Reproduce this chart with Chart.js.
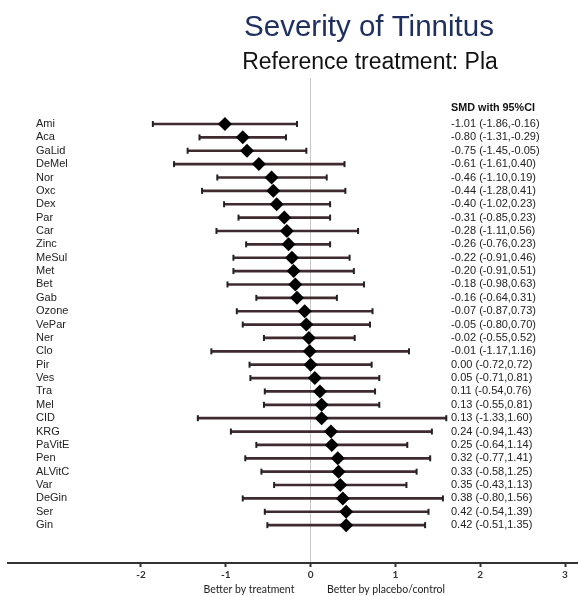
<!DOCTYPE html>
<html>
<head>
<meta charset="utf-8">
<script src="https://cdn.jsdelivr.net/npm/chart.js@4/dist/chart.umd.min.js"></script>
<style>
html,body{margin:0;padding:0;background:#fff;}
#c{display:block;}
</style>
</head>
<body>
<canvas id="c" width="578" height="596"></canvas>
<script>
const treatments = ["Ami","Aca","GaLid","DeMel","Nor","Oxc","Dex","Par","Car","Zinc","MeSul","Met","Bet","Gab","Ozone","VePar","Ner","Clo","Pir","Ves","Tra","Mel","CID","KRG","PaVitE","Pen","ALVitC","Var","DeGin","Ser","Gin"];
const smd   = [-1.01,-0.80,-0.75,-0.61,-0.46,-0.44,-0.40,-0.31,-0.28,-0.26,-0.22,-0.20,-0.18,-0.16,-0.07,-0.05,-0.02,-0.01,0.00,0.05,0.11,0.13,0.13,0.24,0.25,0.32,0.33,0.35,0.38,0.42,0.42];
const lower = [-1.86,-1.31,-1.45,-1.61,-1.10,-1.28,-1.02,-0.85,-1.11,-0.76,-0.91,-0.91,-0.98,-0.64,-0.87,-0.80,-0.55,-1.17,-0.72,-0.71,-0.54,-0.55,-1.33,-0.94,-0.64,-0.77,-0.58,-0.43,-0.80,-0.54,-0.51];
const upper = [-0.16,-0.29,-0.05,0.40,0.19,0.41,0.23,0.23,0.56,0.23,0.46,0.51,0.63,0.31,0.73,0.70,0.52,1.16,0.72,0.81,0.76,0.81,1.60,1.43,1.14,1.41,1.25,1.13,1.56,1.39,1.35];
const xTicks = [-2,-1,0,1,2,3];
const titleText = "Severity of Tinnitus";
const subtitleText = "Reference treatment: Pla";
const columnHeader = "SMD with 95%CI";
const leftCaption = "Better by treatment";
const rightCaption = "Better by placebo/control";

const fmt = v => v.toFixed(2);
const idx = treatments.map((_, i) => i);
const lineColor = '#3e2a2f';

const textPlugin = {
  id: 'forestText',
  afterDraw(chart) {
    const ctx = chart.ctx;
    const ys = chart.scales.y;
    ctx.save();
    ctx.textBaseline = 'alphabetic';
    ctx.textAlign = 'center';
    ctx.fillStyle = '#1f3060';
    ctx.font = '29.5px "Liberation Sans", Arial, sans-serif';
    ctx.fillText(titleText, 369, 36);
    ctx.fillStyle = '#111';
    ctx.font = '23px "Liberation Sans", Arial, sans-serif';
    ctx.fillText(subtitleText, 370, 69);

    ctx.textBaseline = 'middle';
    ctx.textAlign = 'left';
    ctx.font = 'bold 10.8px "Liberation Sans", Arial, sans-serif';
    ctx.fillStyle = '#111';
    ctx.fillText(columnHeader, 451, 108);

    ctx.font = '11px "Liberation Sans", Arial, sans-serif';
    ctx.fillStyle = '#222';
    idx.forEach(i => {
      const y = ys.getPixelForValue(i);
      ctx.fillText(treatments[i], 36, y);
      ctx.fillText(fmt(smd[i]) + ' (' + fmt(lower[i]) + ',' + fmt(upper[i]) + ')', 451, y);
    });

    ctx.textAlign = 'center';
    ctx.font = '10.5px Lato, "Open Sans", sans-serif';
    ctx.fillStyle = '#222';
    ctx.fillText(leftCaption, 249, 589.5);
    ctx.fillText(rightCaption, 386, 589.5);
    ctx.restore();
  }
};

new Chart(document.getElementById('c'), {
  type: 'bar',
  data: {
    datasets: [
      {
        type: 'scatter',
        label: 'SMD',
        data: idx.map(i => ({x: smd[i], y: i})),
        pointStyle: 'rectRot',
        pointRadius: 7,
        backgroundColor: '#000',
        borderColor: '#000',
        borderWidth: 0,
        order: 0
      },
      {
        type: 'scatter',
        label: 'lowcap',
        data: idx.map(i => ({x: lower[i], y: i})),
        pointStyle: 'line',
        rotation: 90,
        pointRadius: 3,
        borderColor: '#222',
        borderWidth: 2,
        order: 1
      },
      {
        type: 'scatter',
        label: 'highcap',
        data: idx.map(i => ({x: upper[i], y: i})),
        pointStyle: 'line',
        rotation: 90,
        pointRadius: 3,
        borderColor: '#222',
        borderWidth: 2,
        order: 1
      },
      {
        type: 'bar',
        label: 'CI',
        data: idx.map(i => ({y: i, x: [lower[i], upper[i]]})),
        backgroundColor: lineColor,
        borderWidth: 0,
        barThickness: 2,
        order: 2
      }
    ]
  },
  options: {
    indexAxis: 'y',
    responsive: false,
    animation: false,
    events: [],
    layout: {autoPadding: false, padding: {left: 8, right: 0, top: 78, bottom: 0}},
    plugins: {legend: {display: false}, tooltip: {enabled: false}, title: {display: false}},
    scales: {
      x: {
        type: 'linear',
        position: 'bottom',
        offset: false,
        min: -3.568,
        max: 3.153,
        afterBuildTicks: axis => { axis.ticks = xTicks.map(v => ({value: v})); },
        afterFit: axis => { axis.height = 33; axis.paddingLeft = 0; axis.paddingRight = 0; },
        grid: {
          offset: false,
          color: c => (c.tick && c.tick.value === 0) ? '#c8c8c8' : 'rgba(0,0,0,0)',
          lineWidth: 1,
          drawTicks: true,
          tickLength: 4,
          tickColor: '#333',
          tickWidth: 2
        },
        border: {display: true, color: '#333', width: 2},
        ticks: {
          color: '#333',
          font: {family: 'Lato, "Open Sans", sans-serif', size: 10, weight: 'bold'},
          padding: 2,
          autoSkip: false,
          maxRotation: 0,
          callback: v => String(v)
        }
      },
      y: {
        type: 'linear',
        display: false,
        offset: false,
        grid: {offset: false},
        reverse: true,
        min: -3.44,
        max: 32.83
      }
    }
  },
  plugins: [textPlugin]
});
</script>
</body>
</html>
